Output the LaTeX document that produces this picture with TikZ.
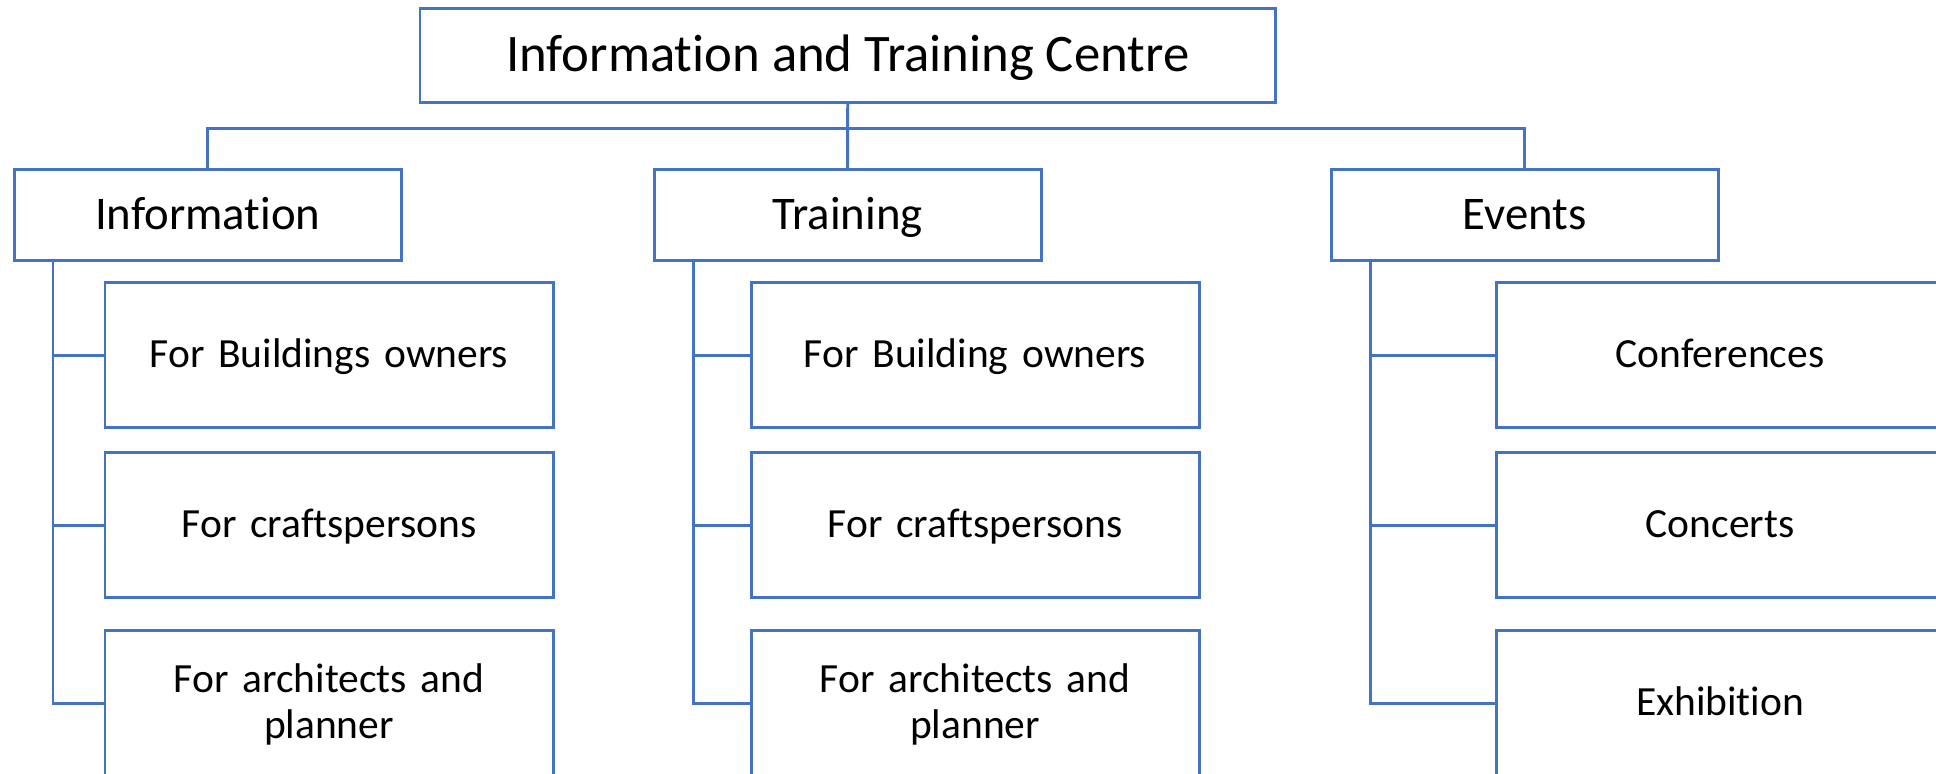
\documentclass[tikz,border=0pt]{standalone}
\usepackage{fontspec}
\setmainfont[Ligatures={NoCommon}]{Carlito}
\definecolor{lineblue}{HTML}{4472C4}
\newcommand{\mystrut}{\rule[-0.2em]{0pt}{1em}}
\tikzset{
  box/.style={draw=lineblue, line width=0.85pt, fill=white, inner sep=0pt, align=center, text=black,
    execute at begin node={\mystrut}, execute at end node={\mystrut}},
  topbox/.style={box, minimum width=855.5*0.01cm, minimum height=94.4*0.01cm, font=\fontsize{15}{18}\selectfont},
  midbox/.style={box, minimum width=387*0.01cm, minimum height=90.7*0.01cm, font=\fontsize{13.3}{16}\selectfont},
  leafbox/.style={box, minimum width=448*0.01cm, minimum height=145*0.01cm, text width=420*0.01cm, font=\fontsize{11.8}{13.1}\selectfont},
  conn/.style={draw=lineblue, line width=0.85pt}
}
\begin{document}
\begin{tikzpicture}[x=0.01cm, y=-0.01cm]
\useasboundingbox (0,0) rectangle (1936,774);
\clip (0,0) rectangle (1936,774);
\fill[white] (0,0) rectangle (1936,774);
% top
\node[topbox] (top) at (847.75,55.5) {Information and Training Centre};
% level 1
\node[midbox] (info) at (207.7,215.3) {Information};
\node[midbox] (train) at (847.5,215.3) {Training};
\node[midbox] (events) at (1524.5,215.3) {Events};
% leaves
\node[leafbox] (i1) at (329,355.5) {For Buildings owners};
\node[leafbox] (i2) at (329,525.5) {For craftspersons};
\node[leafbox] (i3) at (329,703.5) {For architects and\\planner};
\node[leafbox] (t1) at (975,355.5) {For Building owners};
\node[leafbox] (t2) at (975,525.5) {For craftspersons};
\node[leafbox] (t3) at (975,703.5) {For architects and\\planner};
\node[leafbox] (e1) at (1720,355.5) {Conferences};
\node[leafbox] (e2) at (1720,525.5) {Concerts};
\node[leafbox] (e3) at (1720,703.5) {Exhibition};
% connectors top
\coordinate (hb) at (847.75,129);
\draw[conn] (top.south) -- (train.north);
\draw[conn] (info.north) |- (hb) -| (events.north);
% rails
\coordinate (ir) at (53,260.7);
\coordinate (tr) at (693.5,260.7);
\coordinate (er) at (1370,260.7);
\draw[conn] (ir) |- (i3.west);
\draw[conn] (ir |- i1.west) -- (i1.west);
\draw[conn] (ir |- i2.west) -- (i2.west);
\draw[conn] (tr) |- (t3.west);
\draw[conn] (tr |- t1.west) -- (t1.west);
\draw[conn] (tr |- t2.west) -- (t2.west);
\draw[conn] (er) |- (e3.west);
\draw[conn] (er |- e1.west) -- (e1.west);
\draw[conn] (er |- e2.west) -- (e2.west);
\end{tikzpicture}
\end{document}
